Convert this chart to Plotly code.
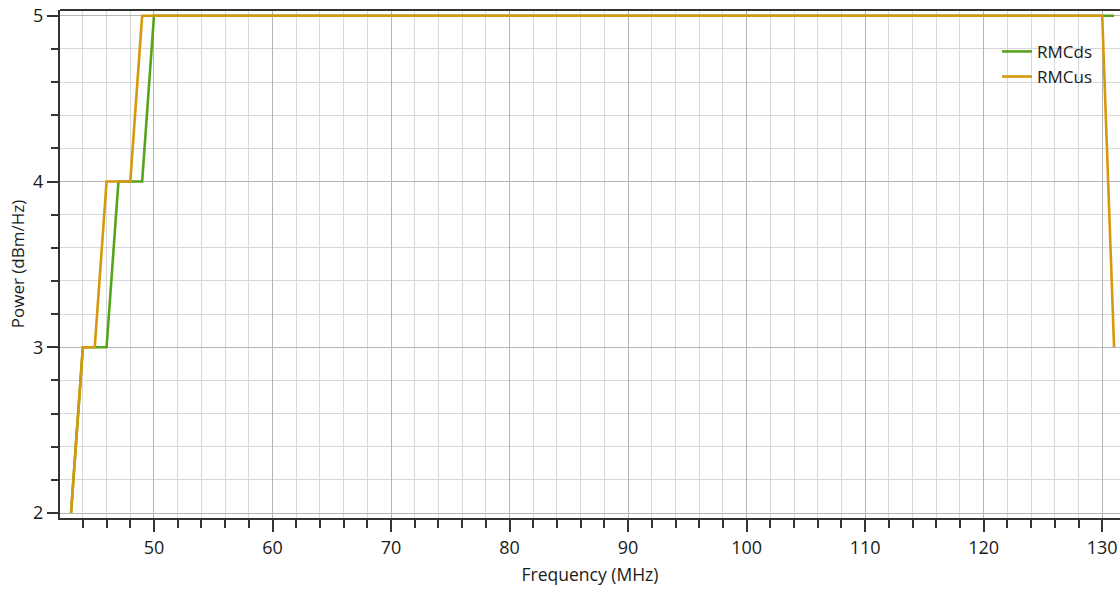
import plotly.graph_objects as go

# Breakpoints (MHz, dBm/Hz)
rmcds_freq = [43, 44, 46, 47, 49, 50, 131]
rmcds_power = [2, 3, 3, 4, 4, 5, 5]
rmcus_freq = [43, 44, 45, 46, 48, 49, 130, 131]
rmcus_power = [2, 3, 3, 4, 4, 5, 5, 3]

x_ticks = [50, 60, 70, 80, 90, 100, 110, 120, 130]
y_ticks = [2, 3, 4, 5]

GREEN = "#56A31C"
ORANGE = "#D6980C"
FONT = "Open Sans, Noto Sans, sans-serif"

fig = go.Figure()
fig.add_trace(go.Scatter(x=rmcds_freq, y=rmcds_power, mode="lines", name="RMCds",
                         line=dict(color=GREEN, width=2.6)))
fig.add_trace(go.Scatter(x=rmcus_freq, y=rmcus_power, mode="lines", name="RMCus",
                         line=dict(color=ORANGE, width=2.6)))

fig.update_layout(
    width=1120, height=592,
    margin=dict(l=60, r=0, t=10, b=74),
    paper_bgcolor="white", plot_bgcolor="white",
    font=dict(family=FONT, color="#1a1a1a"),
    showlegend=True,
    legend=dict(x=0.884, y=0.953, xanchor="left", yanchor="top",
                bgcolor="rgba(0,0,0,0)", font=dict(size=17, color="#1a1a1a"),
                itemwidth=30, tracegroupgap=0),
    xaxis=dict(
        range=[42.07, 131.5], tickvals=x_ticks, ticktext=[str(v) for v in x_ticks],
        showline=True, linecolor="#333", linewidth=2, mirror=False,
        ticks="outside", ticklen=12, tickwidth=1.5, tickcolor="#333",
        tickfont=dict(size=18, color="#1a1a1a"),
        showgrid=True, gridcolor="#b5b5b5", gridwidth=1.2,
        minor=dict(dtick=2, tick0=0, ticks="outside", ticklen=8, tickwidth=1.5, tickcolor="#333",
                   showgrid=True, gridcolor="#d8d8d8", gridwidth=1),
        title=dict(text="Frequency (MHz)", font=dict(size=17.5, color="#1a1a1a"), standoff=11),
        zeroline=False,
    ),
    yaxis=dict(
        range=[1.97, 5.035], tickvals=y_ticks, ticktext=[str(v) for v in y_ticks],
        showline=True, linecolor="#333", linewidth=2,
        ticks="outside", ticklen=11, tickwidth=1.5, tickcolor="#333",
        tickfont=dict(size=18, color="#1a1a1a"),
        showgrid=True, gridcolor="#b5b5b5", gridwidth=1.2,
        minor=dict(dtick=0.2, tick0=0, ticks="outside", ticklen=7, tickwidth=1.5, tickcolor="#333",
                   showgrid=True, gridcolor="#d8d8d8", gridwidth=1),
        title=dict(text="Power (dBm/Hz)", font=dict(size=17, color="#1a1a1a"), standoff=4),
        zeroline=False,
    ),
)

# top border line of the plot frame
fig.add_shape(type="line", xref="paper", yref="paper", x0=0, x1=1, y0=1, y1=1,
              line=dict(color="#333", width=2))

fig.write_html("out.html")
